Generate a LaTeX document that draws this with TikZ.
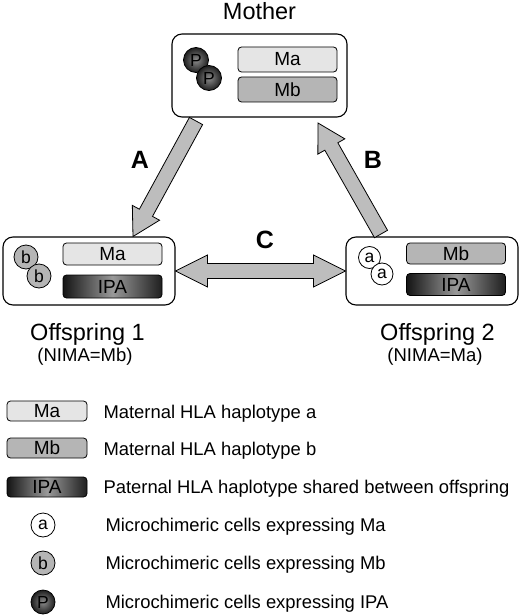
\documentclass[tikz,border=0pt]{standalone}
\usepackage{fontspec}
\setmainfont{Liberation Sans}
\usetikzlibrary{calc}
\definecolor{maFill}{gray}{0.90}
\definecolor{mbFill}{gray}{0.71}
\definecolor{arrowFill}{gray}{0.74}
\begin{document}
\begin{tikzpicture}[x=1pt,y=-1pt,
hbox/.style={draw,rectangle,rounded corners=10pt,line width=1.1pt,inner sep=0pt},
hapbar/.style={draw,rectangle,rounded corners=3.5pt,line width=0.8pt,inner sep=0pt,minimum width=99pt,minimum height=23pt,font=\fontsize{19}{22}\selectfont},
mabar/.style={hapbar,fill=maFill},
mbbar/.style={hapbar,fill=mbFill},
ipabar/.style={hapbar,left color=black!92,right color=black!88,middle color=black!40},
cell/.style={circle,draw,line width=0.8pt,inner sep=0pt,minimum size=24pt,font=\fontsize{17.5}{20}\selectfont},
acell/.style={cell,fill=white},
bcell/.style={cell,fill=mbFill},
pcell/.style={cell,inner color=black!45,outer color=black!88},
fat/.style={draw,line width=0.8pt,fill=arrowFill,line join=miter},
who/.style={anchor=base,font=\fontsize{23.5}{26}\selectfont},
nima/.style={anchor=base,font=\fontsize{18.5}{22}\selectfont},
route/.style={font=\bfseries\fontsize{25}{28}\selectfont},
legtext/.style={anchor=base west,font=\fontsize{18.4}{22}\selectfont}]
\useasboundingbox (0,0) rectangle (520,615);

% the three people
\draw (259.5,75.5) node[hbox,minimum width=175pt,minimum height=83pt] (mother) {};
\draw (89,271) node[hbox,minimum width=172pt,minimum height=68pt] (off1) {};
\draw (432,271) node[hbox,minimum width=172pt,minimum height=68pt] (off2) {};
\draw (259.5,20) node[who] (motherlbl) {Mother};
\draw (87.5,340) node[who] (off1lbl) {Offspring 1};
\draw (437.5,340) node[who] (off2lbl) {Offspring 2};
\draw (85,361) node[nima] (nima1) {(NIMA=Mb)};
\draw (435,361) node[nima] (nima2) {(NIMA=Ma)};

% haplotypes
\draw (287.5,59.5) node[mabar,minimum height=25pt] (mMa) {Ma};
\draw (287.5,89.5) node[mbbar,minimum height=25pt] (mMb) {Mb};
\draw (112.5,254) node[mabar,minimum height=22pt] (o1Ma) {Ma};
\draw (112.5,286.5) node[ipabar] (o1IPA) {IPA};
\draw (456,253.5) node[mbbar,minimum height=21pt] (o2Mb) {Mb};
\draw (456,284.5) node[ipabar,minimum height=22pt] (o2IPA) {IPA};

% microchimeric cells
\draw (196,60) node[pcell,minimum size=25pt] (p1) {P};
\draw (209,78) node[pcell,minimum size=25pt] (p2) {P};
\draw (26,257) node[bcell] (b1) {b};
\draw (39,276) node[bcell] (b2) {b};
\draw (369.5,257.5) node[acell,minimum size=22pt] (a1) {a};
\draw (382,274) node[acell,minimum size=22pt] (a2) {a};

% transfer routes
\coordinate (Atail) at (196,121);
\coordinate (Atip) at (133,236.5);
\coordinate (Btail) at (381,234);
\coordinate (Btip) at (318,123);
\draw[fat] let \p1=($(Atip)-(Atail)$), \n1={atan2(\y1,\x1)}, \n2={veclen(\x1,\y1)-27} in
  ($(Atail)+(\n1+90:7.5pt)$) -- ++(\n1:{\n2*1pt}) -- ++(\n1+90:8pt) -- (Atip)
  -- ($(Atail)+(\n1:{\n2*1pt})+(\n1-90:15.5pt)$) -- ++(\n1+90:8pt) -- ($(Atail)+(\n1-90:7.5pt)$) -- cycle;
\draw[fat] let \p1=($(Btip)-(Btail)$), \n1={atan2(\y1,\x1)}, \n2={veclen(\x1,\y1)-27} in
  ($(Btail)+(\n1+90:7.5pt)$) -- ++(\n1:{\n2*1pt}) -- ++(\n1+90:8pt) -- (Btip)
  -- ($(Btail)+(\n1:{\n2*1pt})+(\n1-90:15.5pt)$) -- ++(\n1+90:8pt) -- ($(Btail)+(\n1-90:7.5pt)$) -- cycle;
\draw[fat] (off1.east) -- ++(32,-16) -- ++(0,8.5) -- ($(off2.west)+(-32,-7.5)$) -- ++(0,-8.5) -- (off2.west)
  -- ++(-32,16) -- ++(0,-8.5) -- ($(off1.east)+(32,7.5)$) -- ++(0,8.5) -- cycle;
\draw (140,160) node[route] (A) {A};
\draw (373,160) node[route] (B) {B};
\draw (265,240) node[route] (C) {C};

% legend
\draw (47,411) node[mabar,minimum width=80pt,minimum height=20pt] (legMa) {Ma};
\draw (47,448) node[mbbar,minimum width=80pt,minimum height=20pt] (legMb) {Mb};
\draw (47,487) node[ipabar,minimum width=80pt,minimum height=20pt] (legIPA) {IPA};
\draw (43,525) node[acell] (lega) {a};
\draw (43,563) node[bcell] (legb) {b};
\draw (43,602) node[pcell] (legp) {P};
\draw (100,418.5) node[legtext] (txtMa) {Maternal HLA haplotype a};
\draw (100,455.5) node[legtext] (txtMb) {Maternal HLA haplotype b};
\draw (100,493.5) node[legtext] (txtIPA) {Paternal HLA haplotype shared between offspring};
\draw (102,531.5) node[legtext] (txta) {Microchimeric cells expressing Ma};
\draw (102,569.5) node[legtext] (txtb) {Microchimeric cells expressing Mb};
\draw (102,608) node[legtext] (txtp) {Microchimeric cells expressing IPA};
\end{tikzpicture}
\end{document}
